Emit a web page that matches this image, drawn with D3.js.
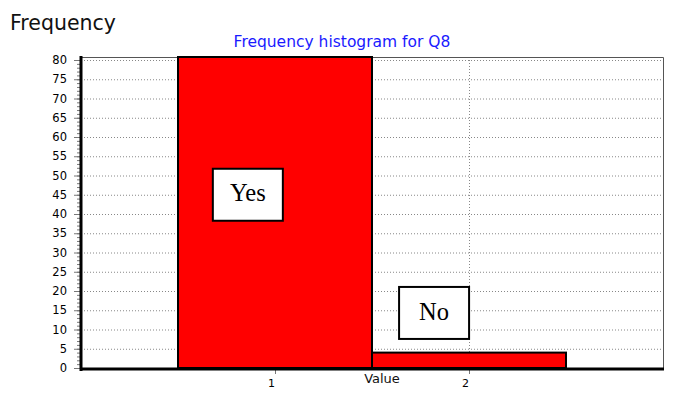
<!DOCTYPE html>
<html><head><meta charset="utf-8">
<script src="https://cdn.jsdelivr.net/npm/d3@7"></script>
<style>body{margin:0;background:#fff}</style>
</head><body>
<svg id="c" width="678" height="417"></svg>
<script>
const categories = ["Yes", "No"];
const xValues = [1, 2];
const frequencies = [81, 4];
const yTicks = [0,5,10,15,20,25,30,35,40,45,50,55,60,65,70,75,80];
const xTickLabels = ["1", "2"];
const labelAnchorX = [0.86, 1.82];
const labelAnchorY = [45, 14.3];

const svg = d3.select("#c");
const L = 81, R = 663, T = 57, B = 368;
const x = d3.scaleLinear().domain([0, 3]).range([L, R]);
const y = d3.scaleLinear().domain([0, 80]).range([B, 60]);
const font = "DejaVu Sans, Verdana, sans-serif";

// grid
svg.append("g").selectAll("line").data(yTicks.filter(d => d > 0)).join("line")
  .attr("x1", L).attr("x2", R).attr("y1", d => y(d) + 0.5).attr("y2", d => y(d) + 0.5)
  .attr("stroke", "#888").attr("stroke-dasharray", "1,2");
svg.append("g").selectAll("line").data(xValues).join("line")
  .attr("x1", d => Math.round(x(d)) + 0.5).attr("x2", d => Math.round(x(d)) + 0.5)
  .attr("y1", T).attr("y2", B)
  .attr("stroke", "#888").attr("stroke-dasharray", "1,2");

// border top/right
svg.append("path").attr("d", `M${L},${T + 0.5}H${R + 0.5}V${B}`)
  .attr("fill", "none").attr("stroke", "#555").attr("stroke-width", 1);

// bars
svg.append("g").selectAll("rect").data(frequencies).join("rect")
  .attr("x", (d, i) => x(xValues[i] - 0.5))
  .attr("width", (d, i) => x(xValues[i] + 0.5) - x(xValues[i] - 0.5))
  .attr("y", d => Math.max(T, y(d)))
  .attr("height", d => B - Math.max(T, y(d)))
  .attr("fill", "#ff0000").attr("stroke", "#000").attr("stroke-width", 2);

// left axis
const yAxis = d3.axisLeft(y).tickValues(yTicks).tickSize(7).tickFormat(d3.format("d"));
const ya = svg.append("g").attr("transform", `translate(${L},0)`).call(yAxis);
ya.select(".domain").remove();
ya.selectAll(".tick line").attr("stroke", "#777");
ya.selectAll("text").attr("font-family", font).attr("font-size", 11.5).attr("fill", "#000").attr("x", -14);
// minor ticks
svg.append("g").selectAll("line").data(d3.range(0, 81, 1)).join("line")
  .attr("x1", L - 4).attr("x2", L).attr("y1", d => y(d) + 0.5).attr("y2", d => y(d) + 0.5)
  .attr("stroke", "#777");

// x axis ticks
const xAxis = d3.axisBottom(x).tickValues(xValues).tickSize(6).tickFormat((d, i) => xTickLabels[i]);
const xa = svg.append("g").attr("transform", `translate(0,${B})`).call(xAxis);
xa.select(".domain").remove();
xa.selectAll(".tick line").attr("stroke", "#777");
xa.selectAll("text").attr("font-family", font).attr("font-size", 11).attr("fill", "#000").attr("dy", "0.9em").attr("dx", -4);

// thick axes lines
svg.append("line").attr("x1", L).attr("x2", L).attr("y1", T - 1).attr("y2", B + 3).attr("stroke", "#000").attr("stroke-width", 3);
svg.append("line").attr("x1", L - 1).attr("x2", R + 1).attr("y1", B + 1).attr("y2", B + 1).attr("stroke", "#000").attr("stroke-width", 3);

// texts
svg.append("text").attr("x", 10).attr("y", 30).attr("font-family", font).attr("font-size", 20.5).attr("fill", "#111").text("Frequency");
svg.append("text").attr("x", 342).attr("y", 47).attr("text-anchor", "middle").attr("font-family", font).attr("font-size", 15.5).attr("fill", "#1a1aff").text("Frequency histogram for Q8");
svg.append("text").attr("x", 382).attr("y", 383).attr("text-anchor", "middle").attr("font-family", font).attr("font-size", 13).attr("fill", "#111").text("Value");

// category label boxes
const lg = svg.append("g").selectAll("g").data(categories).join("g")
  .attr("transform", (d, i) => `translate(${x(labelAnchorX[i])},${y(labelAnchorY[i])})`);
lg.append("rect").attr("x", -35).attr("y", -26).attr("width", 70).attr("height", 52)
  .attr("fill", "#fff").attr("stroke", "#000").attr("stroke-width", 2);
lg.append("text").attr("text-anchor", "middle").attr("dy", "0.35em").attr("y", -2)
  .attr("font-family", "Liberation Serif, Times New Roman, serif").attr("font-size", 24.5).attr("fill", "#000").text(d => d);
</script>
</body></html>
